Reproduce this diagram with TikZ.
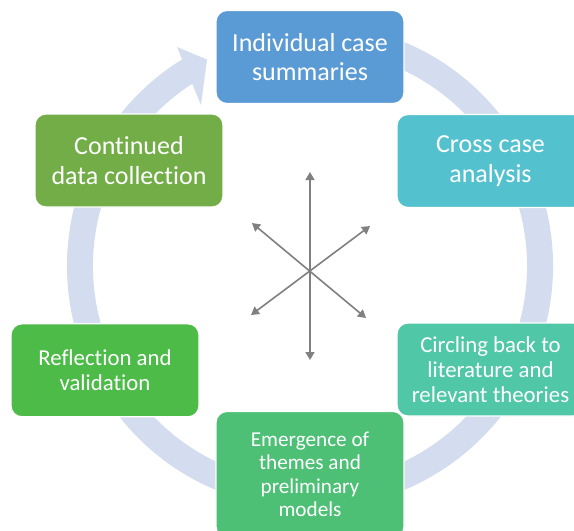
\documentclass[tikz,border=0pt]{standalone}
\usepackage{fontspec}
\setmainfont{Carlito}[Ligatures=NoCommon]
\usetikzlibrary{arrows.meta}

\definecolor{ringblue}{RGB}{211,221,239}
\definecolor{stageblue}{RGB}{91,155,213}
\definecolor{stagecyan}{RGB}{84,194,206}
\definecolor{stageteal}{RGB}{80,199,166}
\definecolor{stagemint}{RGB}{77,192,118}
\definecolor{stagegreen}{RGB}{77,187,72}
\definecolor{stageolive}{RGB}{114,173,71}
\definecolor{spokegray}{RGB}{128,128,128}

\begin{document}
\begin{tikzpicture}[x=1pt,y=1pt,
  stage/.style={rounded corners=11pt, draw=white, line width=1.2pt,
    text=white, align=center, inner sep=0pt,
    minimum width=188pt, minimum height=93pt},
  bigtext/.style={font=\fontsize{26}{29.5}\selectfont},
  midtext/.style={font=\fontsize{22.8}{25.2}\selectfont},
  smalltext/.style={font=\fontsize{21.2}{23.4}\selectfont},
  ring/.style={draw=ringblue, line width=26pt},
  spoke/.style={draw=spokegray, line width=1.6pt,
    {Triangle[length=8pt,width=9pt]}-{Triangle[length=8pt,width=9pt]}}
]
\useasboundingbox (0,0) rectangle (574,-531);
\fill[white] (0,0) rectangle (574,-531);
\clip (0,0) rectangle (574,-531);

% cycle ring with its arrowhead pointing back to the first stage
\coordinate (hub) at (310,-266);
\draw[ring] (hub) ++(70:230) arc[start angle=70, end angle=-239, radius=230];
\coordinate (headA) at (177,-47);
\coordinate (headTip) at (207,-59.5);
\coordinate (headB) at (201,-105);
\fill[ringblue] (headA) -- (headTip) -- (headB) -- cycle;

% stages
\node[stage, bigtext, fill=stageblue] (summaries) at (310,-57)
  {Individual case\\summaries};
\node[stage, bigtext, fill=stagecyan, minimum width=187pt] (cross) at (490.5,-161)
  {Cross case\\analysis};
\node[stage, midtext, fill=stageteal, minimum width=187pt] (circling) at (490.5,-369.5)
  {Circling back to\\literature and\\relevant theories};
\node[stage, smalltext, fill=stagemint, minimum height=126pt] (emergence) at (310,-474.5)
  {Emergence of\\themes and\\preliminary\\models};
\node[stage, midtext, fill=stagegreen] (reflection) at (105,-370.3)
  {Reflection and\\validation};
\node[stage, bigtext, fill=stageolive] (continued) at (129,-160.5)
  {Continued\\data collection};

% central spokes
\coordinate (vTop) at (310,-172);
\coordinate (vBot) at (310,-360);
\coordinate (dUL) at (252,-223);
\coordinate (dLR) at (366,-318);
\coordinate (dUR) at (370,-226);
\coordinate (dLL) at (251,-315);
\draw[spoke] (vTop) -- (vBot);
\draw[spoke] (dUL) -- (dLR);
\draw[spoke] (dUR) -- (dLL);
\end{tikzpicture}
\end{document}
